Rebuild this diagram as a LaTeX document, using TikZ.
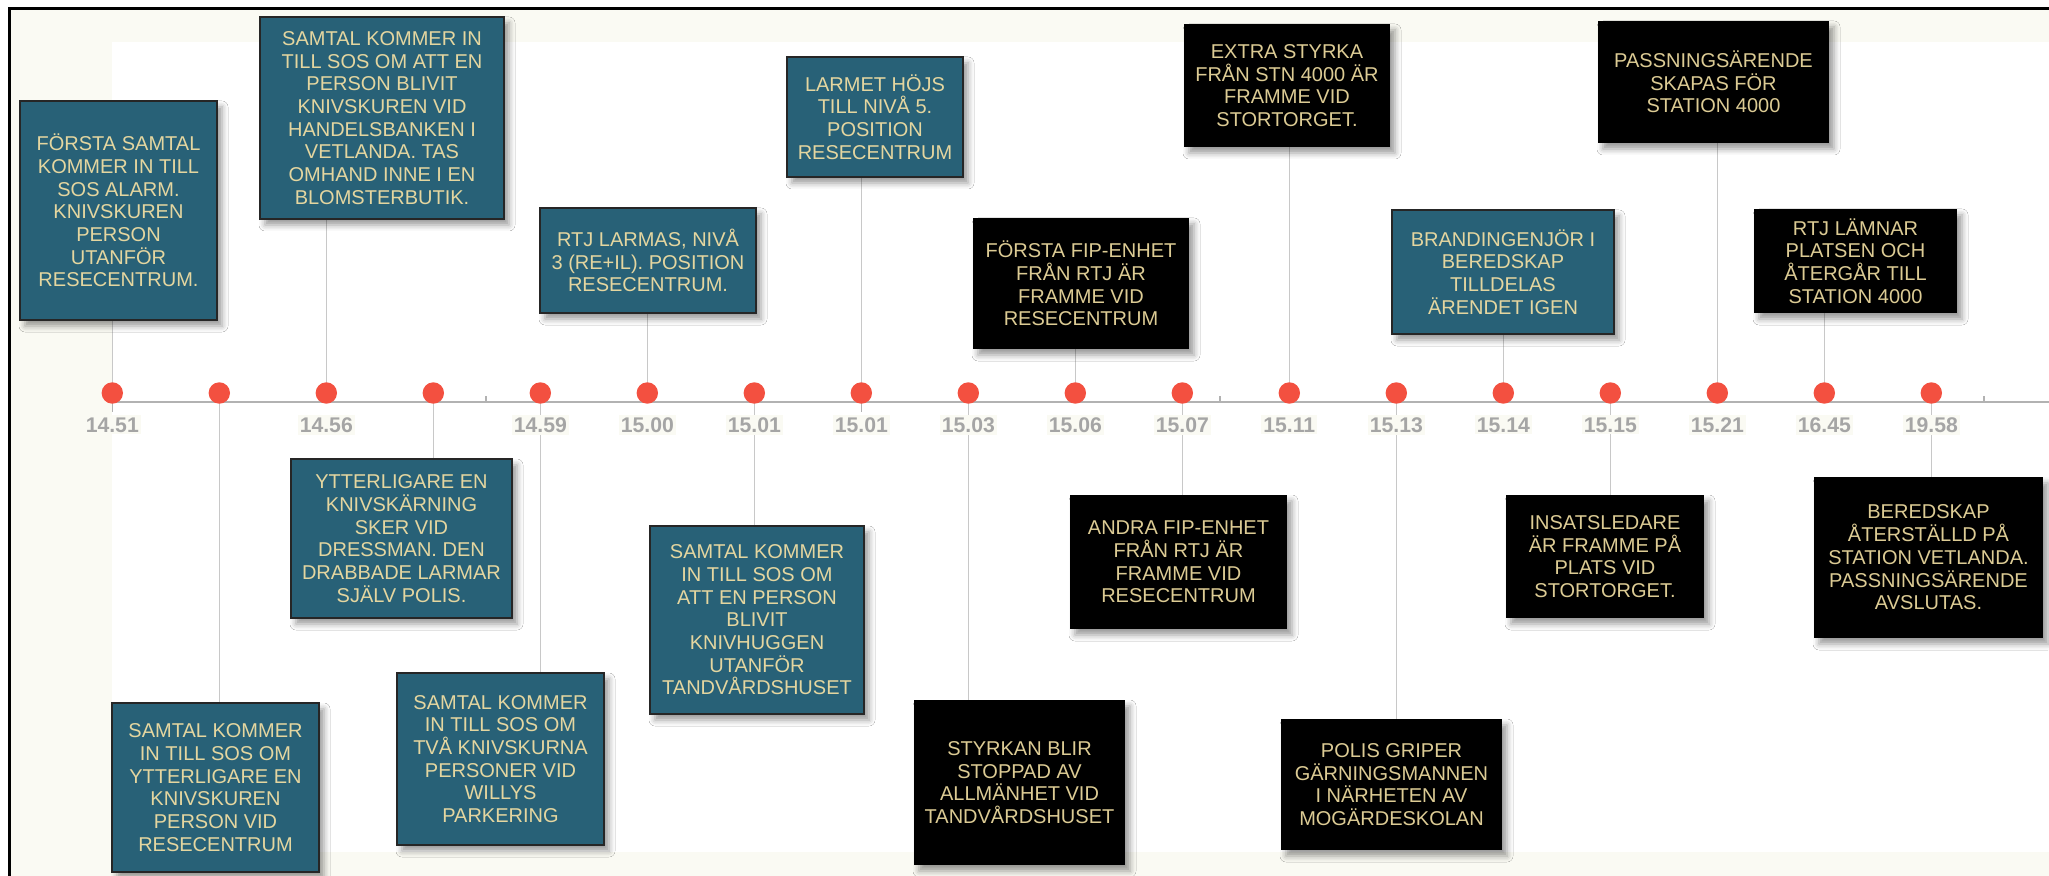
\documentclass[tikz,border=0pt]{standalone}
\usepackage{fontspec}
\setmainfont{Liberation Sans}
\usetikzlibrary{shadows.blur}
\definecolor{cream}{RGB}{250,250,243}
\definecolor{evblue}{RGB}{40,97,119}
\definecolor{evtextb}{RGB}{228,214,160}
\definecolor{evtextk}{RGB}{220,203,148}
\definecolor{axisgray}{RGB}{178,178,178}
\definecolor{conngray}{RGB}{200,200,200}
\definecolor{dotred}{RGB}{243,80,64}
\definecolor{labelgray}{RGB}{165,165,165}
\pgfdeclarelayer{bg}
\pgfsetlayers{bg,main}
\tikzset{
  evbase/.style={rectangle, inner sep=0pt, outer sep=0pt, align=center,
    font=\fontsize{10pt}{11.35pt}\selectfont,
    blur shadow={shadow xshift=2.5pt, shadow yshift=-3pt, shadow blur radius=3pt}},
  bluebox/.style={evbase, fill=evblue, draw=black!85, line width=1pt, text=evtextb},
  blackbox/.style={evbase, fill=black, text=evtextk},
  dotnode/.style={circle, fill=dotred, inner sep=0pt, minimum size=10.7pt},
  timelabel/.style={fill=cream, text=labelgray, font=\bfseries\fontsize{10.6pt}{12pt}\selectfont,
    inner sep=1pt, minimum height=9.5pt},
  conn/.style={draw=conngray, line width=0.75pt},
  axisline/.style={draw=axisgray, line width=1pt},
  ticklines/.style={draw=axisgray, line width=0.6pt},
}
\newcommand{\evbox}[7]{%
  \pgfmathsetmacro\evx{(#3+#5)/2}%
  \pgfmathsetmacro\evy{(#4+#6)/2}%
  \pgfmathsetmacro\evw{(#5-#3)/2}%
  \pgfmathsetmacro\evh{(#6-#4)/2}%
  \node[#2, minimum width=\evw pt, minimum height=\evh pt] (#1) at (\evx,\evy) {#7};%
}
\begin{document}
\begin{tikzpicture}[x=0.5pt, y=-0.5pt]
\useasboundingbox (0,0) rectangle (2049,876);
% dots and axis coordinates
\foreach \i in {0,...,17} {
  \pgfmathsetmacro\xx{112.3+107*\i}
  \node[dotnode] (d\i) at (\xx,393) {};
  \coordinate (a\i) at (\xx,402);
}
% top boxes
\evbox{b0}{bluebox}{20}{101}{217}{320}{FÖRSTA SAMTAL\\KOMMER IN TILL\\SOS ALARM.\\KNIVSKUREN\\PERSON\\UTANFÖR\\RESECENTRUM.}
\evbox{b2}{bluebox}{260}{17}{504}{219}{SAMTAL KOMMER IN\\TILL SOS OM ATT EN\\PERSON BLIVIT\\KNIVSKUREN VID\\HANDELSBANKEN I\\VETLANDA. TAS\\OMHAND INNE I EN\\BLOMSTERBUTIK.}
\evbox{b5}{bluebox}{540}{208}{756}{313}{RTJ LARMAS, NIVÅ\\3 (RE+IL). POSITION\\RESECENTRUM.}
\evbox{b7}{bluebox}{787}{57}{963}{177}{LARMET HÖJS\\TILL NIVÅ 5.\\POSITION\\RESECENTRUM}
\evbox{b9}{blackbox}{973}{218}{1189}{349}{FÖRSTA FIP-ENHET\\FRÅN RTJ ÄR\\FRAMME VID\\RESECENTRUM}
\evbox{b11}{blackbox}{1184}{24}{1390}{147}{EXTRA STYRKA\\FRÅN STN 4000 ÄR\\FRAMME VID\\STORTORGET.}
\evbox{b13}{bluebox}{1392}{210}{1614}{334}{BRANDINGENJÖR I\\BEREDSKAP\\TILLDELAS\\ÄRENDET IGEN}
\evbox{b15}{blackbox}{1598}{21}{1829}{143}{PASSNINGSÄRENDE\\SKAPAS FÖR\\STATION 4000}
\evbox{b16}{blackbox}{1754}{209}{1957}{313}{RTJ LÄMNAR\\PLATSEN OCH\\ÅTERGÅR TILL\\STATION 4000}
% bottom boxes
\evbox{b1}{bluebox}{112}{703}{319}{872}{SAMTAL KOMMER\\IN TILL SOS OM\\YTTERLIGARE EN\\KNIVSKUREN\\PERSON VID\\RESECENTRUM}
\evbox{b3}{bluebox}{291}{459}{512}{618}{YTTERLIGARE EN\\KNIVSKÄRNING\\SKER VID\\DRESSMAN. DEN\\DRABBADE LARMAR\\SJÄLV POLIS.}
\evbox{b4}{bluebox}{397}{673}{604}{845}{SAMTAL KOMMER\\IN TILL SOS OM\\TVÅ KNIVSKURNA\\PERSONER VID\\WILLYS\\PARKERING}
\evbox{b6}{bluebox}{650}{526}{864}{714}{SAMTAL KOMMER\\IN TILL SOS OM\\ATT EN PERSON\\BLIVIT\\KNIVHUGGEN\\UTANFÖR\\TANDVÅRDSHUSET}
\evbox{b8}{blackbox}{914}{700}{1125}{865}{STYRKAN BLIR\\STOPPAD AV\\ALLMÄNHET VID\\TANDVÅRDSHUSET}
\evbox{b10}{blackbox}{1070}{495}{1287}{629}{ANDRA FIP-ENHET\\FRÅN RTJ ÄR\\FRAMME VID\\RESECENTRUM}
\evbox{b12}{blackbox}{1281}{719}{1502}{850}{POLIS GRIPER\\GÄRNINGSMANNEN\\I NÄRHETEN AV\\MOGÄRDESKOLAN}
\evbox{b14}{blackbox}{1506}{495}{1704}{618}{INSATSLEDARE\\ÄR FRAMME PÅ\\PLATS VID\\STORTORGET.}
\evbox{b17}{blackbox}{1814}{477}{2043}{638}{BEREDSKAP\\ÅTERSTÄLLD PÅ\\STATION VETLANDA.\\PASSNINGSÄRENDE\\AVSLUTAS.}
% time labels
\foreach \i/\lab in {0/14.51, 2/14.56, 4/14.59, 5/15.00, 6/15.01, 7/15.01, 8/15.03, 9/15.06,
  10/15.07, 11/15.11, 12/15.13, 13/15.14, 14/15.15, 15/15.21, 16/16.45, 17/19.58} {
  \path (a\i) ++(0,23) node[timelabel] (l\i) {\lab};
}
\begin{pgfonlayer}{bg}
  \fill[white] (0,0) rectangle (2049,876);
  \fill[cream] (9,8) rectangle (2049,876);
  \fill[white] (112,42) rectangle (2049,852);
  \draw[black, line width=1.25pt] (9.5,876) -- (9.5,8.5) -- (2049,8.5);
  % axis
  \draw[axisline] (a0) -- (2049,402);
  \draw[ticklines] (a0) -- ++(0,10);
  \draw[ticklines] (a7) -- ++(0,10);
  \draw[ticklines] (486,402) -- (486,396);
  \draw[ticklines] (1220,402) -- (1220,396);
  \draw[ticklines] (1984,402) -- (1984,396);
  % connectors to top boxes
  \foreach \i in {0,2,5,7,9,11,13,15,16} {
    \draw[conn] (d\i |- b\i.south) -- (d\i.center);
  }
  % connectors to bottom boxes
  \foreach \i in {1,3,4,6,8,10,12,14,17} {
    \draw[conn] (a\i) -- (a\i |- b\i.north);
  }
\end{pgfonlayer}
\end{tikzpicture}
\end{document}
